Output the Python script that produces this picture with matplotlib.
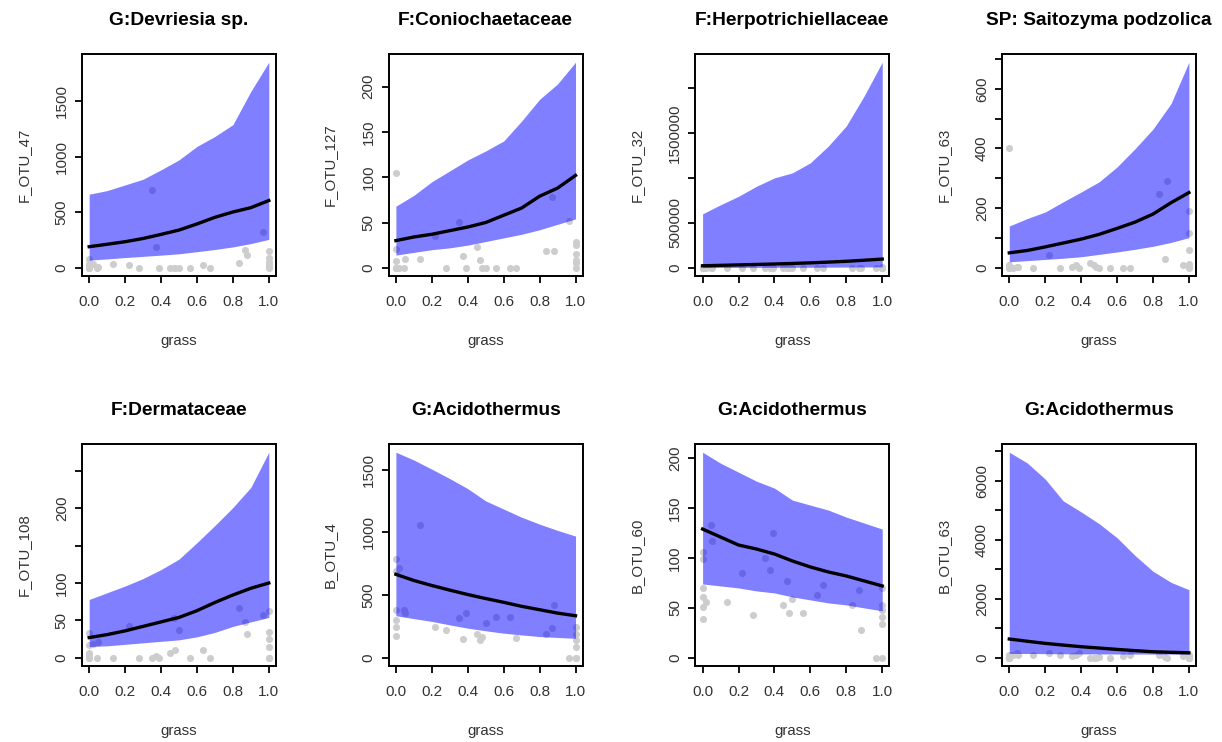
import numpy as np
import matplotlib
matplotlib.use("Agg")
import matplotlib.pyplot as plt

plt.rcParams['font.family'] = ['Liberation Sans', 'DejaVu Sans']

# Panel titles and y labels
# --------------------------
titles = ["G:Devriesia sp.", "F:Coniochaetaceae", "F:Herpotrichiellaceae",
          "SP: Saitozyma podzolica", "F:Dermataceae", "G:Acidothermus",
          "G:Acidothermus", "G:Acidothermus"]
ylabels = ["F_OTU_47", "F_OTU_127", "F_OTU_32", "F_OTU_63",
           "F_OTU_108", "B_OTU_4", "B_OTU_60", "B_OTU_63"]

# Observed samples (grass cover), shared by every panel
# ------------------------------------------------------
grass = [0.0, 0.0, 0.0, 0.0, 0.0, 0.0, 0.02, 0.045, 0.05, 0.134, 0.22, 0.28,
         0.35, 0.373, 0.39, 0.45, 0.47, 0.48, 0.5, 0.56, 0.635, 0.67, 0.834,
         0.868, 0.88, 0.965, 1.0, 1.0, 1.0, 1.0, 1.0, 1.0]

obs_f47 = [75, 30, 10, 0, 0, 0, 30, 0, 10, 30, 25, 0, 700, 190, 0, 0, 0, 0,
           0, 0, 25, 0, 45, 160, 115, 325, 155, 85, 55, 25, 10, 0]
obs_f127 = [105, 21, 7, 0, 0, 0, 0, 0, 10, 10, 35, 0, 51, 13, 0, 23, 9, 0,
            0, 0, 0, 0, 18, 78, 19, 52, 28, 25, 15, 9, 5, 0]
obs_f32 = [8000, 3000, 0, 0, 0, 0, 0, 0, 0, 0, 0, 0, 0, 0, 0, 0, 0, 0,
           0, 0, 0, 0, 0, 0, 0, 0, 6000, 3000, 0, 0, 0, 0]
obs_f63 = [401, 9, 5, 3, 0, 0, 0, 3, 3, 0, 42, 0, 3, 9, 0, 17, 9, 3,
           0, 0, 0, 0, 246, 31, 290, 9, 191, 117, 61, 14, 3, 0]
obs_f108 = [33, 17, 6, 4, 0, 0, 19, 0, 21, 0, 43, 0, 0, 2, 0, 6, 53, 11,
            37, 0, 11, 0, 67, 48, 32, 57, 63, 34, 25, 15, 0, 0]
obs_b4 = [785, 690, 383, 303, 249, 175, 718, 383, 356, 1059, 249, 222, 316,
          153, 356, 190, 142, 169, 276, 322, 324, 161, 188, 236, 423, 0,
          249, 190, 142, 88, 0, 0]
obs_b60 = [106, 99, 70, 61, 51, 39, 56, 133, 117, 56, 85, 43, 100, 88, 125,
           53, 77, 45, 59, 45, 63, 73, 53, 68, 28, 0, 70, 53, 48, 41, 34, 0]
obs_b63 = [100, 60, 20, 0, 0, 0, 90, 150, 90, 90, 170, 90, 60, 90, 150, 0,
           0, 0, 30, 0, 60, 90, 90, 30, 0, 60, 100, 50, 20, 0, 0, 0]

# Prediction grid, mean and 95% band
# -----------------------------------
grid = [0.0, 0.1, 0.2, 0.3, 0.4, 0.5, 0.6, 0.7, 0.8, 0.9, 1.0]

mean_f47 = [190, 212, 235, 264, 301, 340, 395, 455, 503, 542, 606]
low_f47 = [69, 80, 92, 103, 114, 126, 145, 165, 188, 218, 256]
up_f47 = [663, 696, 747, 798, 883, 973, 1094, 1184, 1290, 1590, 1853]

mean_f127 = [30, 34, 37, 41, 45, 50, 58, 66, 79, 88, 102]
low_f127 = [14, 17, 20, 22, 25, 29, 33, 37, 42, 48, 54]
up_f127 = [68, 80, 95, 107, 119, 129, 140, 162, 186, 203, 227]

mean_f32 = [22000, 27000, 32000, 37000, 42000, 48000, 55000, 63000, 72000,
            84000, 97000]
low_f32 = [3000, 3500, 4000, 4500, 5000, 5500, 6000, 7000, 8000, 9000, 10000]
up_f32 = [600000, 701000, 795000, 907000, 1000000, 1056000, 1168000,
          1354000, 1578000, 1914000, 2287000]

mean_f63 = [50, 58, 70, 83, 96, 112, 132, 153, 180, 218, 252]
low_f63 = [20, 24, 28, 32, 37, 45, 53, 62, 72, 85, 101]
up_f63 = [140, 165, 187, 221, 254, 288, 338, 399, 465, 550, 689]

mean_f108 = [27, 31, 36, 42, 48, 54, 63, 74, 84, 93, 100]
low_f108 = [15, 16, 18, 20, 22, 24, 28, 34, 42, 48, 54]
up_f108 = [78, 87, 96, 106, 118, 132, 154, 177, 201, 228, 275]

mean_b4 = [665, 616, 576, 539, 504, 472, 442, 410, 383, 356, 335]
low_b4 = [335, 312, 290, 262, 236, 215, 196, 182, 169, 162, 155]
up_b4 = [1638, 1576, 1503, 1428, 1348, 1250, 1185, 1120, 1065, 1015, 970]

mean_b60 = [129, 121, 113, 109, 104, 97, 91, 86, 82, 77, 72]
low_b60 = [74, 72, 70, 67, 65, 61, 58, 55, 53, 50, 47]
up_b60 = [206, 195, 186, 177, 170, 158, 153, 148, 141, 135, 129]

mean_b63 = [636, 560, 488, 430, 375, 330, 284, 242, 204, 185, 170]
low_b63 = [148, 145, 140, 136, 132, 130, 128, 127, 126, 125, 125]
up_b63 = [6964, 6600, 6055, 5316, 4942, 4544, 4067, 3465, 2931, 2556, 2306]

# y ticks (R drops labels that would overlap)
# --------------------------------------------
yticks = [[0, 500, 1000, 1500],
          [0, 50, 100, 150, 200],
          [0, 500000, 1000000, 1500000, 2000000],
          [0, 100, 200, 300, 400, 500, 600, 700],
          [0, 50, 100, 150, 200, 250],
          [0, 500, 1000, 1500],
          [0, 50, 100, 150, 200],
          [0, 1000, 2000, 3000, 4000, 5000, 6000, 7000]]
ytick_labels = [["0", "500", "1000", "1500"],
                ["0", "50", "100", "150", "200"],
                ["0", "500000", "", "1500000", ""],
                ["0", "", "200", "", "400", "", "600", ""],
                ["0", "50", "100", "", "200", ""],
                ["0", "500", "1000", "1500"],
                ["0", "50", "100", "150", "200"],
                ["0", "", "2000", "", "4000", "", "6000", ""]]

obs_all = [obs_f47, obs_f127, obs_f32, obs_f63, obs_f108, obs_b4, obs_b60, obs_b63]
mean_all = [mean_f47, mean_f127, mean_f32, mean_f63, mean_f108, mean_b4, mean_b60, mean_b63]
low_all = [low_f47, low_f127, low_f32, low_f63, low_f108, low_b4, low_b60, low_b63]
up_all = [up_f47, up_f127, up_f32, up_f63, up_f108, up_b4, up_b60, up_b63]

W, H = 1222, 742
fig = plt.figure(figsize=(W / 100, H / 100), dpi=100)

box_w, box_h = 194, 222
for k in range(8):
    row, col = divmod(k, 4)
    left = 82 + 306.7 * col
    top = 54 + 390 * row
    ax = fig.add_axes([left / W, 1 - (top + box_h) / H, box_w / W, box_h / H])

    # points first, then translucent band so points inside look darker
    ax.scatter(grass, obs_all[k], s=26, color='#cdcdcd', linewidth=0, zorder=1)
    ax.fill_between(grid, low_all[k], up_all[k], color='blue', alpha=0.5,
                    linewidth=0, zorder=2)
    ax.plot(grid, mean_all[k], color='black', lw=2.4, zorder=3)

    lo = min(min(obs_all[k]), min(low_all[k]))
    hi = max(max(obs_all[k]), max(up_all[k]))
    pad = 0.04 * (hi - lo)
    ax.set_ylim(lo - pad, hi + pad)
    ax.set_xlim(-0.04, 1.04)

    ax.set_xticks([0, 0.2, 0.4, 0.6, 0.8, 1.0])
    ax.set_xticklabels(["0.0", "0.2", "0.4", "0.6", "0.8", "1.0"])
    ax.set_yticks(yticks[k])
    ax.set_yticklabels(ytick_labels[k], rotation=90, va='center')

    ax.tick_params(axis='both', direction='out', length=5, width=1.3,
                   labelsize=11, color='black', labelcolor='#333333')
    ax.tick_params(axis='x', pad=8.5)
    ax.tick_params(axis='y', pad=4.5)
    for sp in ax.spines.values():
        sp.set_linewidth(1.4)

    ax.set_title(titles[k], fontsize=13.8, fontweight='bold', pad=21)
    ax.set_xlabel("grass", fontsize=10.8, color='#333333')
    ax.set_ylabel(ylabels[k], fontsize=10.8, color='#333333')
    ax.xaxis.set_label_coords(0.5, -57.5 / box_h)
    ax.yaxis.set_label_coords(-51.5 / box_w, 0.5)

plt.savefig("out.png", dpi=100)
plt.close()
